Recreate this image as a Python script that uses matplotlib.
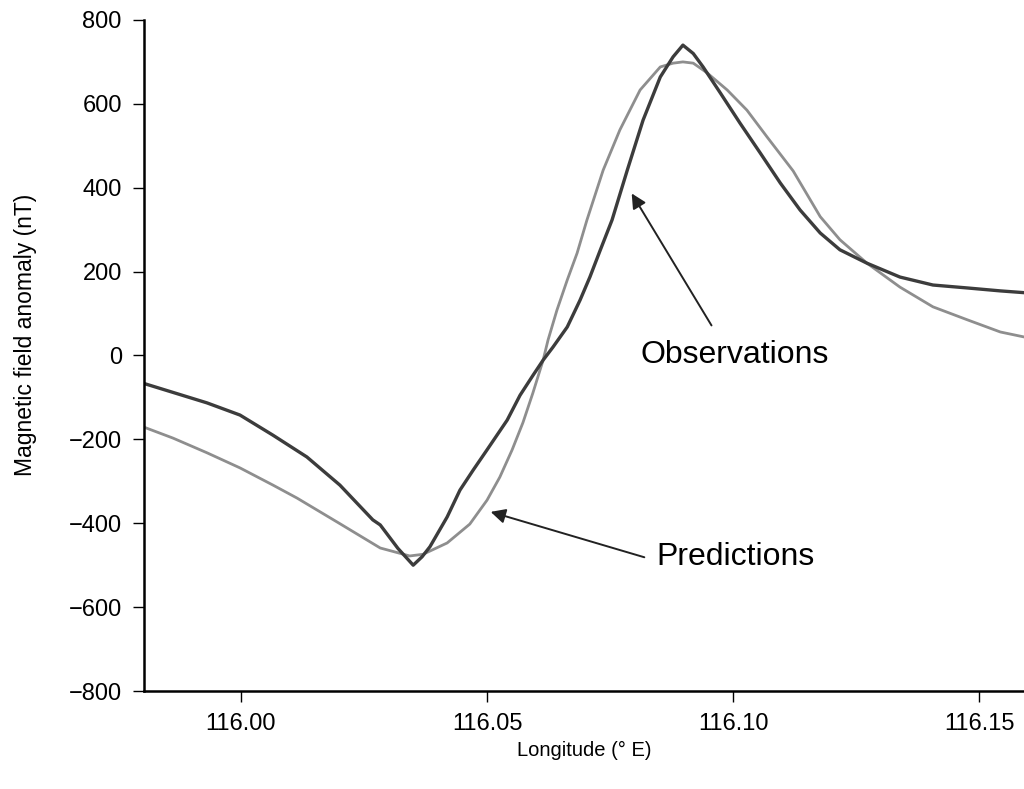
import numpy as np
import matplotlib
matplotlib.use("Agg")
import matplotlib.pyplot as plt

plt.rcParams['font.family'] = ['Liberation Sans', 'DejaVu Sans']

# observations (dark curve)
obs_lon = [115.9801, 115.9931, 115.9998, 116.0065, 116.0134, 116.0201, 116.0268, 116.0283, 116.0319, 116.0350,
           116.0368, 116.0384, 116.0419, 116.0445, 116.0472, 116.0500, 116.0541, 116.0567, 116.0593, 116.0614,
           116.0634, 116.0663, 116.0689, 116.0709, 116.0730, 116.0754, 116.0785, 116.0817, 116.0852, 116.0878,
           116.0898, 116.0919, 116.0939, 116.0974, 116.1014, 116.1055, 116.1096, 116.1136, 116.1177, 116.1217,
           116.1272, 116.1339, 116.1406, 116.1476, 116.1543, 116.1600]
obs_val = [-66, -113, -142, -190, -242, -309, -392, -404, -460, -500,
           -480, -456, -385, -321, -273, -225, -154, -95, -48, -11,
           20, 68, 132, 187, 251, 323, 442, 561, 664, 712,
           740, 720, 688, 626, 554, 483, 411, 347, 292, 252,
           220, 187, 168, 161, 154, 149]

# predictions (lighter curve)
pred_lon = [115.9801, 115.9862, 115.9931, 115.9998, 116.0065, 116.0114, 116.0201, 116.0283, 116.0343, 116.0370,
            116.0419, 116.0465, 116.0500, 116.0526, 116.0551, 116.0573, 116.0593, 116.0614, 116.0624, 116.0642,
            116.0663, 116.0683, 116.0703, 116.0736, 116.0770, 116.0811, 116.0852, 116.0878, 116.0898, 116.0919,
            116.0947, 116.0988, 116.1028, 116.1069, 116.1122, 116.1177, 116.1217, 116.1272, 116.1339, 116.1406,
            116.1476, 116.1543, 116.1600]
pred_val = [-170, -197, -232, -268, -309, -340, -401, -459, -478, -474,
            -447, -402, -345, -290, -225, -160, -90, -11, 37, 108,
            180, 244, 323, 442, 538, 633, 688, 697, 700, 697,
            674, 633, 585, 521, 440, 331, 276, 220, 163, 116,
            85, 56, 42]

xticks = [116.00, 116.05, 116.10, 116.15]
yticks = [-800, -600, -400, -200, 0, 200, 400, 600, 800]

fig = plt.figure(figsize=(10.24, 7.89), dpi=100)
ax = fig.add_axes([0.1406, 0.1242, 0.8594, 0.8505])

ax.plot(pred_lon, pred_val, color='#8e8e8e', lw=2.0)
ax.plot(obs_lon, obs_val, color='#3c3c3c', lw=2.4)

ax.set_xlim(115.9803, 116.1591)
ax.set_ylim(-800, 800)
ax.set_xticks(xticks)
ax.set_xticklabels(['%.2f' % t for t in xticks])
ax.set_yticks(yticks)
ax.set_yticklabels([str(t).replace('-', '\u2212') for t in yticks])

for s in ['top', 'right']:
    ax.spines[s].set_visible(False)
for s in ['left', 'bottom']:
    ax.spines[s].set_linewidth(1.8)
ax.tick_params(direction='out', length=8, width=1, labelsize=17, pad=8)

ax.set_xlabel('Longitude (\u00b0 E)', fontsize=14.5, labelpad=4)
ax.set_ylabel('Magnetic field anomaly (nT)', fontsize=16.5)
ax.yaxis.set_label_coords(-0.122, 0.53)

arrow = dict(arrowstyle='-|>', color='#222222', lw=1.4, mutation_scale=22)
ax.annotate('', xy=(116.0791, 392), xytext=(116.0959, 66), arrowprops=arrow)
ax.annotate('', xy=(116.0502, -371), xytext=(116.0825, -483), arrowprops=arrow)
ax.text(116.1004, 0, 'Observations', fontsize=23, ha='center', va='center')
ax.text(116.1004, -480, 'Predictions', fontsize=23, ha='center', va='center')

fig.savefig('out.png', dpi=100)
